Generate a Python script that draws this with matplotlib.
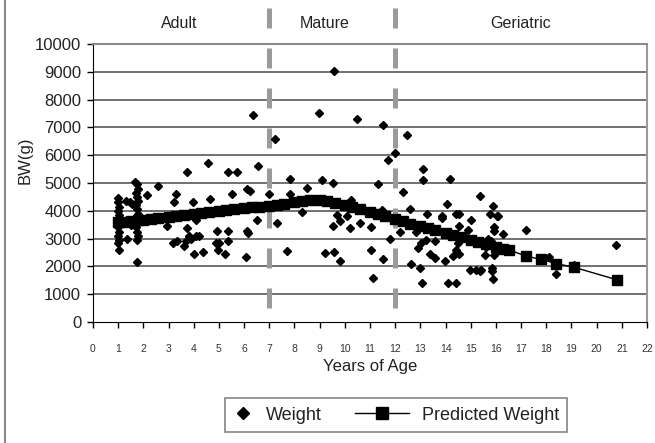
"""Body weight by age with predicted weight curve."""

import matplotlib
matplotlib.use("Agg")
import matplotlib.pyplot as plt
from matplotlib.legend_handler import HandlerLine2D
from matplotlib.lines import Line2D

# observed weights (age in years, BW in g)
weight_age = [
    1.0, 1.0, 1.05, 1.0, 1.05, 1.0, 1.05, 1.0, 1.05, 1.0, 1.05, 1.0, 1.05,
    1.3, 1.45, 1.55, 1.35, 1.5,
    1.65, 1.75, 1.8, 1.7, 1.75, 1.8, 1.7, 1.75, 1.8, 1.7, 1.75, 1.8, 1.75, 1.75,
    2.15, 2.6, 2.95, 3.2, 3.3, 3.18, 3.33, 3.6, 3.7, 3.75, 3.73, 3.8, 3.9, 3.97,
    4.0, 4.1, 4.1, 4.2, 4.35, 4.56, 4.65, 4.92, 4.9, 5.0, 4.96, 5.25, 5.35, 5.35,
    5.35, 5.5, 5.71, 6.08, 6.1, 6.15, 6.1, 6.25, 6.36, 6.5, 6.54, 7.0, 7.23, 7.3,
    7.82, 7.82, 7.72, 8.28, 8.5, 8.98, 9.1, 9.2, 9.54, 9.58, 9.58, 9.67, 9.8,
    9.54, 9.8, 10.09, 10.2, 10.26, 10.49, 10.59, 11.03, 11.03, 11.1, 11.3, 11.49,
    11.52, 11.52, 11.71, 11.78, 11.98,
    12.18, 12.3, 12.48, 12.57, 12.64, 12.84, 12.9, 12.97, 13.04, 13.07, 13.1,
    13.1, 13.24, 13.27, 13.37, 13.6, 13.6, 13.87, 13.86, 13.99, 14.07, 14.09,
    14.19, 14.29, 14.42, 14.42, 14.42, 14.49, 14.55, 14.55, 14.55, 14.88, 14.98,
    15.0, 15.2, 15.35, 15.37, 15.41, 15.58, 15.74, 15.78, 15.85, 15.85, 15.9,
    15.9, 15.94, 15.94, 15.94, 16.05, 16.07, 16.27, 15.6, 15.8, 16.0, 15.7, 16.1,
    17.2, 18.12, 18.38, 19.1, 20.76,
]
weight_bw = [
    4450, 4300, 4150, 4000, 3850, 3700, 3550, 3400, 3250, 3100, 2950, 2850, 2600,
    4350, 4300, 4250, 3000, 3500,
    5050, 4950, 4800, 4650, 4500, 4350, 4200, 4050, 3900, 3400, 3250, 3100, 2950, 2150,
    4580, 4880, 3470, 4320, 4610, 2840, 2900, 2750, 2900, 3370, 5390, 3100, 3000, 4320,
    2450, 3680, 3100, 3100, 2520, 5730, 4430, 3290, 2850, 2850, 2600, 2450, 3290, 2900,
    5390, 4620, 5380, 2330, 3290, 3200, 4800, 4700, 7440, 3660, 5600, 4610, 6600, 3560,
    5150, 4620, 2560, 3950, 4830, 7510, 5100, 2480, 5000, 9025, 2520, 3860, 3620,
    3470, 2180, 3800, 3380, 4400, 7320, 3560, 3420, 2600, 1600, 4950, 4040,
    7090, 2260, 5820, 2990, 6090,
    3220, 4670, 6730, 4080, 2080, 3220, 2660, 1940, 2840, 1410, 5490,
    5090, 2960, 3900, 2450, 2300, 2930, 3800, 3750, 2210, 4250, 1400,
    5160, 2360, 2600, 3890, 1400, 2840, 3900, 3470, 2440, 3320, 1880,
    3660, 1880, 4520, 1820, 1880, 2420, 2840, 3900, 1940, 1850, 4160,
    1550, 3400, 3260, 2420, 3800, 3830, 3180, 2700, 2900, 2600, 3000, 2750,
    3320, 2330, 1730, 2060, 2760,
]

# predicted weight curve
pred_age = [
    1.0, 1.2, 1.5, 1.8, 2.0, 2.3, 2.6, 3.0, 3.3, 3.6, 4.0, 4.3, 4.6, 5.0, 5.3,
    5.6, 6.0, 6.3, 6.6, 7.0, 7.3, 7.6, 8.0, 8.3, 8.6, 9.0, 9.3, 9.6, 10.0, 10.3,
    10.6, 11.0, 11.3, 11.6, 12.0, 12.3, 12.6, 13.0, 13.3, 13.6, 14.0, 14.3, 14.6,
    15.0, 15.3, 15.6, 16.0, 16.3, 16.5, 17.2, 17.8, 18.4, 19.1, 20.8,
]
pred_bw = [
    3580, 3600, 3630, 3660, 3680, 3710, 3750, 3790, 3820, 3850, 3890, 3920, 3950,
    3990, 4020, 4050, 4090, 4120, 4150, 4190, 4220, 4260, 4300, 4340, 4380, 4400,
    4350, 4280, 4200, 4140, 4060, 3950, 3880, 3800, 3700, 3620, 3540, 3450, 3370,
    3300, 3200, 3120, 3050, 2950, 2880, 2800, 2700, 2640, 2600, 2370, 2250, 2100,
    1970, 1520,
]

stage_bounds = [7, 12]
stage_labels = ["Adult", "Mature", "Geriatric"]
stage_label_x = [3.45, 9.2, 16.95]

W, H = 655, 443


class LongLineHandler(HandlerLine2D):
    """Line handle that reaches further left than the handle box."""

    def __init__(self, extra, **kw):
        super().__init__(**kw)
        self.extra = extra

    def create_artists(self, legend, orig_handle, xdescent, ydescent,
                       width, height, fontsize, trans):
        return super().create_artists(legend, orig_handle, xdescent + self.extra,
                                      ydescent, width + self.extra, height,
                                      fontsize, trans)


def main():
    plt.rcParams["font.family"] = ["Liberation Sans", "DejaVu Sans"]
    fig = plt.figure(figsize=(W / 100, H / 100), dpi=100)
    ax = fig.add_axes([93 / W, 1 - 322 / H, 554 / W, 278 / H])

    # horizontal grid
    for y in range(1000, 10000, 1000):
        ax.axhline(y, color="#4a4a4a", lw=1.1, zorder=1)

    # life stage dividers
    for b in stage_bounds:
        ax.plot([b, b], [11300, 0], color="#9a9a9a", lw=3.6, dashes=(4, 4),
                clip_on=False, zorder=2, solid_capstyle="butt", dash_capstyle="butt")

    ax.plot(weight_age, weight_bw, ls="none", marker="D", ms=3.8,
            color="black", zorder=3)
    ax.plot(pred_age, pred_bw, color="black", lw=1, marker="s", ms=6.5, zorder=4)

    ax.set_xlim(0, 22)
    ax.set_ylim(0, 10000)
    ax.set_xticks(range(0, 23))
    ax.set_yticks(range(0, 10001, 1000))
    ax.tick_params(axis="x", direction="out", length=4, width=1, pad=12,
                   labelsize=7.5, colors="black", labelcolor="#333333")
    ax.tick_params(axis="y", direction="out", length=4.5, width=1, pad=4,
                   labelsize=12, labelcolor="#222222")

    ax.spines["left"].set_color("black")
    ax.spines["bottom"].set_color("black")
    ax.spines["top"].set_color("#8a8a8a")
    ax.spines["right"].set_color("#9a9a9a")
    ax.spines["top"].set_linewidth(1.5)
    ax.spines["right"].set_linewidth(1.5)

    for lab, x in zip(stage_labels, stage_label_x):
        px = 92.5 + x * 25.25
        fig.text(px / W, 1 - 23 / H, lab, ha="center", va="center",
                 fontsize=11.5, color="#222222")

    fig.text(370 / W, 1 - 367 / H, "Years of Age", ha="center", va="center",
             fontsize=12, color="#222222")
    fig.text(25 / W, 1 - 160 / H, "BW(g)", ha="center", va="center",
             rotation=90, fontsize=12, color="#222222")

    h_weight = Line2D([], [], ls="none", marker="D", ms=6.5, color="black")
    h_pred = Line2D([], [], color="black", lw=1, marker="s", ms=8)
    leg = fig.legend([h_weight, h_pred], ["Weight", "Predicted Weight"],
                     loc="center", bbox_to_anchor=(396 / W, 1 - 415 / H), ncol=2,
                     fontsize=13, frameon=True, fancybox=False, edgecolor="#666666",
                     handlelength=1.1, handletextpad=0.72, columnspacing=3.7,
                     borderpad=0.45, borderaxespad=0,
                     handler_map={h_pred: LongLineHandler(24.5)})
    leg.get_frame().set_linewidth(1.2)
    for t in leg.get_texts():
        t.set_color("#222222")

    # left border of the original figure frame
    fig.add_artist(Line2D([5 / W, 5 / W], [0, 1], color="#8a8a8a", lw=1.5))

    fig.savefig("out.png", dpi=100)


if __name__ == "__main__":
    main()
